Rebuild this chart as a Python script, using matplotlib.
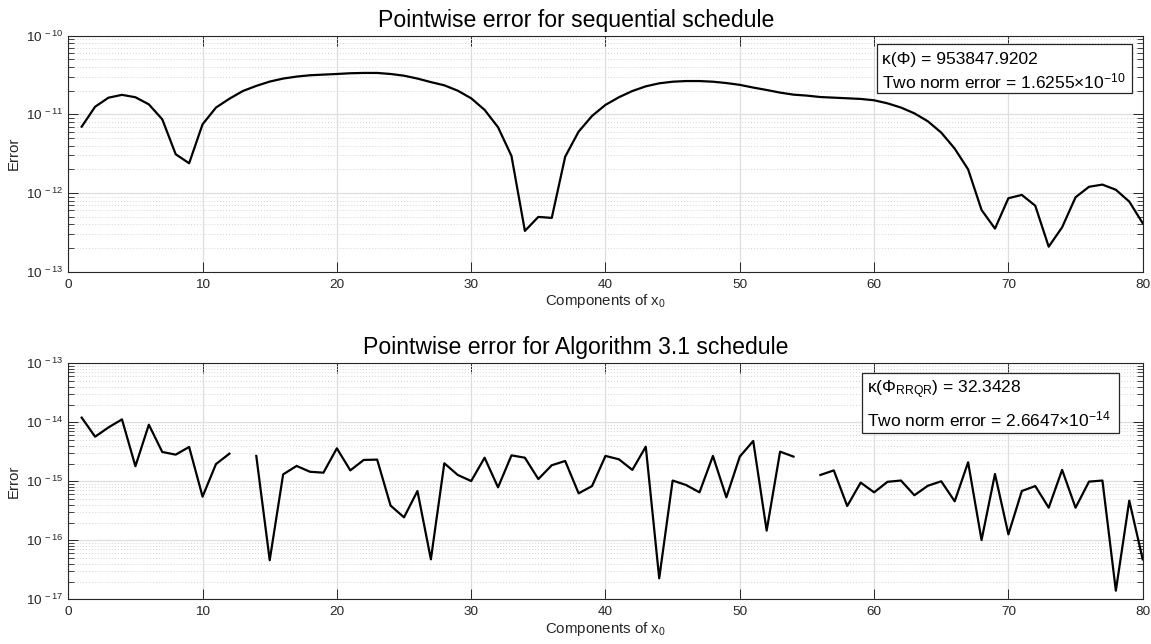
import numpy as np
import matplotlib
matplotlib.use("Agg")
import matplotlib.pyplot as plt
from matplotlib.patches import Rectangle
from matplotlib.ticker import (FixedLocator, FuncFormatter, LogLocator,
                               NullFormatter, MultipleLocator)

plt.rcParams["font.family"] = ["Liberation Sans", "DejaVu Sans"]
plt.rcParams["mathtext.fontset"] = "custom"
plt.rcParams["mathtext.rm"] = "Liberation Sans"
plt.rcParams["mathtext.it"] = "Liberation Sans:italic"
plt.rcParams["mathtext.bf"] = "Liberation Sans:bold"

components = np.arange(1, 81)

# Pointwise error, sequential schedule
err_sequential = [
    6.98e-12, 1.25e-11, 1.63e-11, 1.77e-11, 1.65e-11, 1.34e-11, 8.65e-12, 3.11e-12, 2.39e-12, 7.48e-12,
    1.22e-11, 1.58e-11, 1.98e-11, 2.30e-11, 2.61e-11, 2.85e-11, 3.02e-11, 3.14e-11, 3.20e-11, 3.26e-11,
    3.33e-11, 3.36e-11, 3.36e-11, 3.26e-11, 3.10e-11, 2.85e-11, 2.57e-11, 2.34e-11, 2.00e-11, 1.60e-11,
    1.14e-11, 6.86e-12, 2.96e-12, 3.30e-13, 4.97e-13, 4.83e-13, 2.90e-12, 6.03e-12, 9.55e-12, 1.32e-11,
    1.65e-11, 1.98e-11, 2.27e-11, 2.48e-11, 2.60e-11, 2.65e-11, 2.65e-11, 2.60e-11, 2.50e-11, 2.37e-11,
    2.19e-11, 2.04e-11, 1.89e-11, 1.78e-11, 1.73e-11, 1.66e-11, 1.63e-11, 1.60e-11, 1.57e-11, 1.51e-11,
    1.38e-11, 1.22e-11, 1.03e-11, 8.17e-12, 5.86e-12, 3.67e-12, 2.00e-12, 6.10e-13, 3.53e-13, 8.59e-13,
    9.46e-13, 6.90e-13, 2.08e-13, 3.67e-13, 8.84e-13, 1.20e-12, 1.28e-12, 1.10e-12, 7.78e-13, 4.13e-13,
]

# Pointwise error, Algorithm 3.1 schedule (NaN = no value)
err_algorithm = [
    1.20e-14, 5.70e-15, 8.20e-15, 1.12e-14, 1.80e-15, 9.10e-15, 3.14e-15, 2.83e-15, 3.82e-15, 5.50e-16,
    1.96e-15, 2.94e-15, np.nan, 2.69e-15, 4.60e-17, 1.31e-15, 1.82e-15, 1.45e-15, 1.40e-15, 3.62e-15,
    1.53e-15, 2.30e-15, 2.33e-15, 3.87e-16, 2.45e-16, 6.85e-16, 4.76e-17, 2.02e-15, 1.28e-15, 1.01e-15,
    2.51e-15, 7.90e-16, 2.75e-15, 2.51e-15, 1.09e-15, 1.87e-15, 2.21e-15, 6.25e-16, 8.30e-16, 2.69e-15,
    2.36e-15, 1.56e-15, 3.86e-15, 2.27e-17, 1.03e-15, 8.65e-16, 6.50e-16, 2.69e-15, 5.35e-16, 2.62e-15,
    4.82e-15, 1.46e-16, 3.18e-15, 2.62e-15, np.nan, 1.28e-15, 1.53e-15, 3.81e-16, 9.50e-16, 6.50e-16,
    9.80e-16, 1.03e-15, 5.80e-16, 8.40e-16, 1.00e-15, 4.58e-16, 2.10e-15, 1.01e-16, 1.33e-15, 1.26e-16,
    6.85e-16, 8.30e-16, 3.57e-16, 1.56e-15, 3.57e-16, 9.87e-16, 1.03e-15, 1.40e-17, 4.70e-16, 4.76e-17,
]

titles = ["Pointwise error for sequential schedule", "Pointwise error for Algorithm 3.1 schedule"]
decades = [[-13, -12, -11, -10], [-17, -16, -15, -14, -13]]
note_lines = [
    ["\u03ba(\u03a6) = 953847.9202", "Two norm error = 1.6255\u00d710$^{-10}$"],
    ["\u03ba(\u03a6$_{\\mathrm{RRQR}}$) = 32.3428", "Two norm error = 2.6647\u00d710$^{-14}$"],
]
# box (x0, y0, x1, y1), text left, baselines of the two lines -- axes fractions
note_boxes = [(0.7524, 0.7559, 0.9903, 0.9636), (0.7385, 0.7034, 0.9782, 0.9576)]
note_text_x = [0.7571, 0.7437]
note_baselines = [(0.8788, 0.7771), (0.8729, 0.7343)]

ink = "#262626"


def decade_label(v, _pos):
    e = int(round(np.log10(v)))
    return "10$^{\\,%d}$" % e


fig = plt.figure(figsize=(11.51, 6.44), dpi=100)
axes = [fig.add_axes([0.0593, 0.5781, 0.9335, 0.3665]),
        fig.add_axes([0.0593, 0.0694, 0.9335, 0.3665])]

for i, (ax, data) in enumerate(zip(axes, [err_sequential, err_algorithm])):
    ax.semilogy(components, data, color="black", lw=1.6, zorder=3)
    ax.set_xlim(0, 80)
    ax.set_ylim(10.0 ** decades[i][0], 10.0 ** decades[i][-1])
    ax.xaxis.set_major_locator(MultipleLocator(10))
    ax.yaxis.set_major_locator(FixedLocator([10.0 ** e for e in decades[i]]))
    ax.yaxis.set_major_formatter(FuncFormatter(decade_label))
    ax.yaxis.set_minor_locator(LogLocator(base=10, subs=np.arange(2, 10), numticks=20))
    ax.yaxis.set_minor_formatter(NullFormatter())

    ax.grid(True, which="major", color="#dedede", lw=0.9, ls="-", zorder=0)
    ax.grid(True, which="minor", axis="y", color="#d4d4d4", lw=0.7, ls=(0, (1, 2)), zorder=0)
    ax.set_axisbelow(True)

    ax.tick_params(which="both", direction="in", top=True, right=True,
                   colors=ink, labelsize=9.7, labelcolor=ink)
    ax.tick_params(which="major", length=7, width=0.7)
    ax.tick_params(which="minor", length=4.5, width=0.6)
    ax.tick_params(axis="x", pad=5)
    for s in ax.spines.values():
        s.set_color(ink)
        s.set_linewidth(0.8)

    ax.set_title(titles[i], fontsize=16.6, color="black", pad=6.5, x=0.4725)
    ax.set_xlabel("Components of x$_0$", fontsize=10.8, color=ink, labelpad=1)
    ax.set_ylabel("Error", fontsize=10.8, color=ink, labelpad=4)

    x0, y0, x1, y1 = note_boxes[i]
    ax.add_patch(Rectangle((x0, y0), x1 - x0, y1 - y0, transform=ax.transAxes,
                           fc="white", ec=ink, lw=0.9, zorder=5))
    for line, yb in zip(note_lines[i], note_baselines[i]):
        ax.text(note_text_x[i], yb, line, transform=ax.transAxes, ha="left",
                va="baseline", fontsize=12.5, color="black", zorder=6)

fig.savefig("out.png", dpi=100)
